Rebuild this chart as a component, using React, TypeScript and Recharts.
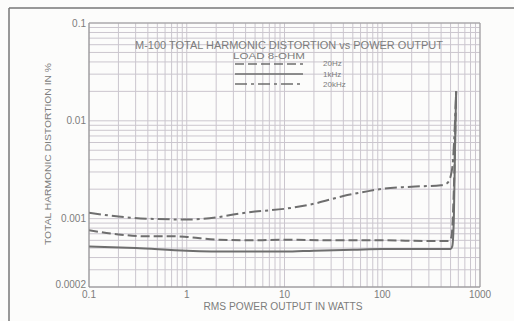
import { LineChart, Line, XAxis, YAxis, CartesianGrid } from "recharts";

// x ticks (log grid) and the ones that carry a label
const xTicks = [
  0.1, 0.2, 0.3, 0.4, 0.5, 0.6, 0.7, 0.8, 0.9,
  1, 2, 3, 4, 5, 6, 7, 8, 9,
  10, 20, 30, 40, 50, 60, 70, 80, 90,
  100, 200, 300, 400, 500, 600, 700, 800, 900,
  1000,
];
const xLabels: Record<string, string> = { "0.1": "0.1", "1": "1", "10": "10", "100": "100", "1000": "1000" };

const yTicks = [
  0.0002, 0.0003, 0.0004, 0.0005, 0.0006, 0.0007, 0.0008, 0.0009,
  0.001, 0.002, 0.003, 0.004, 0.005, 0.006, 0.007, 0.008, 0.009,
  0.01, 0.02, 0.03, 0.04, 0.05, 0.06, 0.07, 0.08, 0.09,
  0.1,
];
const yLabels: Record<string, string> = { "0.0002": "0.0002", "0.001": "0.001", "0.01": "0.01", "0.1": "0.1" };

// 20 Hz (dashed)
const hz20 = [
  { x: 0.1, y: 0.00076 },
  { x: 0.2, y: 0.00069 },
  { x: 0.4, y: 0.00066 },
  { x: 0.7, y: 0.00066 },
  { x: 1, y: 0.00065 },
  { x: 2, y: 0.00061 },
  { x: 5, y: 0.0006 },
  { x: 10, y: 0.00061 },
  { x: 30, y: 0.0006 },
  { x: 100, y: 0.0006 },
  { x: 300, y: 0.00059 },
  { x: 480, y: 0.00059 },
  { x: 510, y: 0.00065 },
  { x: 540, y: 0.002 },
  { x: 570, y: 0.02 },
];

// 1 kHz (solid)
const khz1 = [
  { x: 0.1, y: 0.00052 },
  { x: 0.3, y: 0.0005 },
  { x: 1, y: 0.00047 },
  { x: 3, y: 0.00046 },
  { x: 10, y: 0.00046 },
  { x: 20, y: 0.00047 },
  { x: 50, y: 0.00048 },
  { x: 100, y: 0.00049 },
  { x: 300, y: 0.00049 },
  { x: 500, y: 0.00049 },
  { x: 520, y: 0.00052 },
  { x: 540, y: 0.001 },
  { x: 555, y: 0.005 },
  { x: 570, y: 0.02 },
];

// 20 kHz (dash-dot)
const khz20 = [
  { x: 0.1, y: 0.00115 },
  { x: 0.2, y: 0.00105 },
  { x: 0.5, y: 0.00099 },
  { x: 1, y: 0.00098 },
  { x: 2, y: 0.00103 },
  { x: 3, y: 0.0011 },
  { x: 5, y: 0.00118 },
  { x: 10, y: 0.00126 },
  { x: 20, y: 0.00142 },
  { x: 40, y: 0.0017 },
  { x: 70, y: 0.0019 },
  { x: 100, y: 0.00202 },
  { x: 200, y: 0.00212 },
  { x: 400, y: 0.0022 },
  { x: 460, y: 0.0023 },
  { x: 500, y: 0.0027 },
  { x: 530, y: 0.004 },
  { x: 555, y: 0.01 },
  { x: 570, y: 0.02 },
];

const FONT = '"Liberation Sans", Arial, sans-serif';
const TEXT = "#7c7c7c";
const CURVE = "#6e6e6e";

function YTick(props: any) {
  const { x, y, payload } = props;
  const label = yLabels[String(payload.value)];
  if (!label) return null;
  const lift = payload.value === 0.0002 ? -3 : 0;
  return (
    <text x={x} y={y + lift} dy="0.35em" textAnchor="end" fontSize={10} fill={TEXT} fontFamily={FONT}>
      {label}
    </text>
  );
}

export default function App() {
  return (
    <div style={{ position: "absolute", left: 0, top: 0, width: 514, height: 321, background: "#fcfcfb", fontFamily: FONT }}>
      <LineChart width={514} height={321} margin={{ top: 23, right: 34, bottom: 0, left: 0 }}>
        <CartesianGrid stroke="#cbc6ce" strokeWidth={1} />
        <XAxis
          type="number"
          dataKey="x"
          scale="log"
          domain={[0.1, 1000]}
          ticks={xTicks}
          interval={0}
          allowDataOverflow
          tickFormatter={(v: number) => xLabels[String(v)] ?? ""}
          tickLine={false}
          tickSize={0}
          tickMargin={4}
          height={34}
          axisLine={{ stroke: "#8a8a8a" }}
          tick={{ fill: TEXT, fontSize: 10, fontFamily: FONT }}
        />
        <YAxis
          type="number"
          dataKey="y"
          scale="log"
          domain={[0.0002, 0.1]}
          ticks={yTicks}
          interval={0}
          allowDataOverflow
          tickLine={false}
          tickSize={0}
          tickMargin={3}
          width={89}
          axisLine={{ stroke: "#8a8a8a" }}
          tick={<YTick />}
        />
        <Line data={hz20} dataKey="y" type="monotone" stroke={CURVE} strokeWidth={2} strokeDasharray="9 4" dot={false} isAnimationActive={false} />
        <Line data={khz1} dataKey="y" type="monotone" stroke={CURVE} strokeWidth={2} dot={false} isAnimationActive={false} />
        <Line data={khz20} dataKey="y" type="monotone" stroke={CURVE} strokeWidth={2} strokeDasharray="12 4 3 4" dot={false} isAnimationActive={false} />
      </LineChart>
      <svg width={514} height={321} style={{ position: "absolute", left: 0, top: 0, pointerEvents: "none" }}>
        <line x1={9} y1={8} x2={514} y2={8} stroke="#777" strokeWidth={1.5} />
        <line x1={9} y1={8} x2={9} y2={321} stroke="#777" strokeWidth={1.5} />
        <line x1={89} y1={23} x2={480} y2={23} stroke="#9a9a9a" />
        <line x1={480} y1={23} x2={480} y2={287} stroke="#9a9a9a" />
        <text x={289} y={49} textAnchor="middle" fontSize={11} fill={TEXT} textLength={308} lengthAdjust="spacingAndGlyphs">
          M-100 TOTAL HARMONIC DISTORTION vs POWER OUTPUT
        </text>
        <text x={233} y={59} fontSize={9} fill={TEXT} textLength={72} lengthAdjust="spacingAndGlyphs">
          LOAD  8-OHM
        </text>
        <line x1={235} y1={64} x2={303} y2={64} stroke={CURVE} strokeWidth={1.6} strokeDasharray="9 4" />
        <line x1={235} y1={74} x2={303} y2={74} stroke={CURVE} strokeWidth={1.6} />
        <line x1={235} y1={84} x2={303} y2={84} stroke={CURVE} strokeWidth={1.6} strokeDasharray="12 4 3 4" />
        <text x={323} y={66} fontSize={8} fill={TEXT}>20Hz</text>
        <text x={323} y={77} fontSize={8} fill={TEXT}>1kHz</text>
        <text x={323} y={87} fontSize={8} fill={TEXT}>20kHz</text>
        <text
          x={0}
          y={0}
          transform="translate(51,154) rotate(-90)"
          textAnchor="middle"
          fontSize={9}
          fill={TEXT}
          textLength={182}
          lengthAdjust="spacingAndGlyphs"
        >
          TOTAL HARMONIC DISTORTION IN %
        </text>
        <text x={283} y={310} textAnchor="middle" fontSize={10} fill={TEXT} textLength={159} lengthAdjust="spacingAndGlyphs">
          RMS POWER OUTPUT IN WATTS
        </text>
      </svg>
    </div>
  );
}
